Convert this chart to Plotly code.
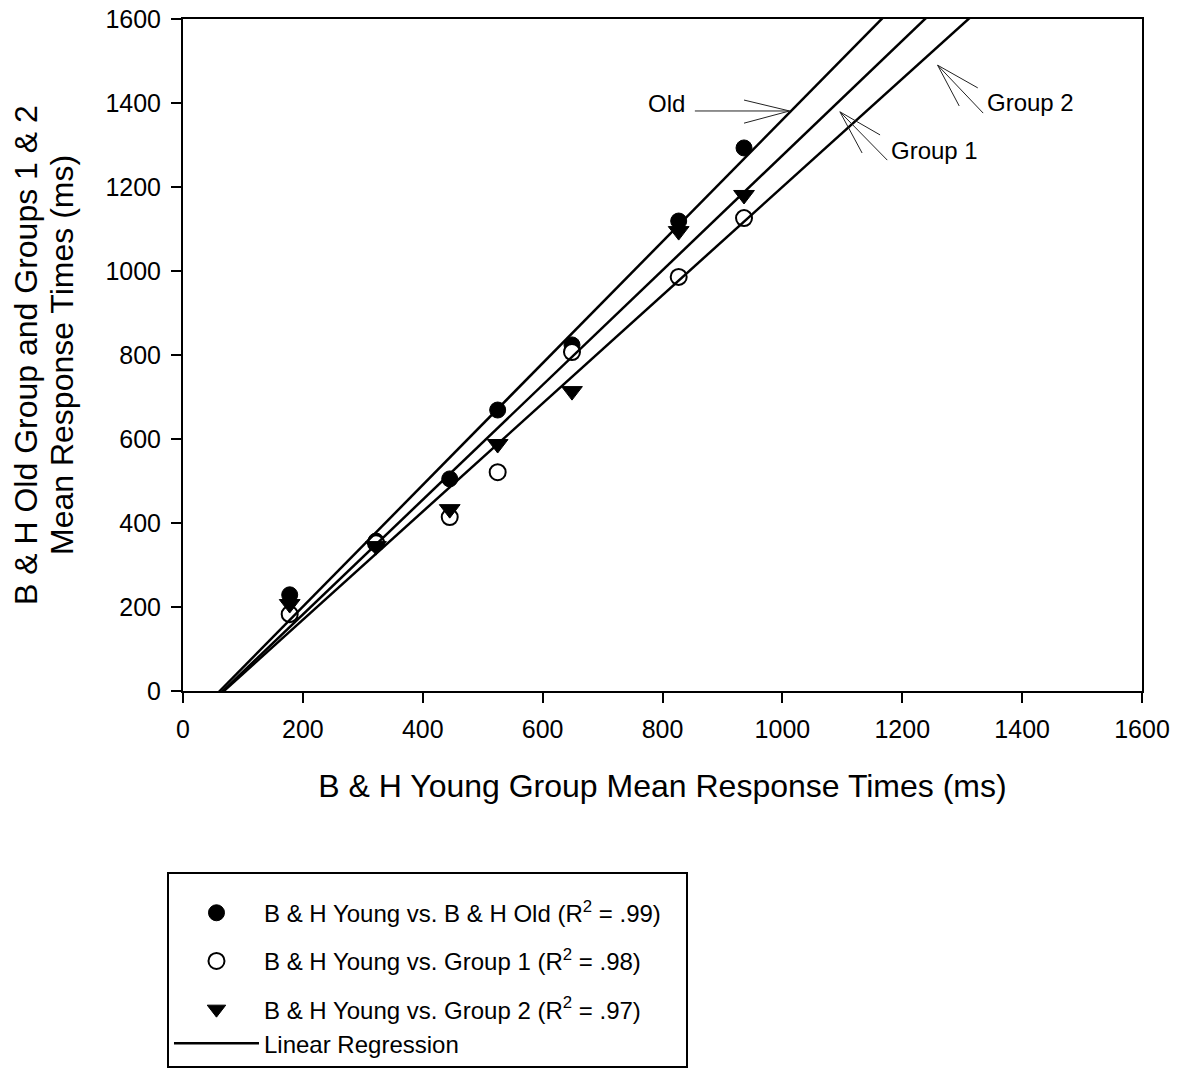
import plotly.graph_objects as go

# ---------------- data ----------------
young_rt = [178, 322, 445, 525, 649, 827, 936]          # B & H Young group mean RT (ms)
old_rt = [229, 357, 505, 669, 824, 1119, 1293]          # B & H Old group
group1_rt = [183, 352, 414, 521, 807, 986, 1126]        # Group 1
group2_rt = [207, 345, 433, 588, 714, 1095, 1181]       # Group 2

# regression lines (intercept, slope) as drawn in the reference
fit_names = ["Old", "Group 1", "Group 2"]
fit_intercepts = [-89.0, -91.0, -88.0]
fit_slopes = [1.449, 1.366, 1.288]

x_ticks = [0, 200, 400, 600, 800, 1000, 1200, 1400, 1600]
y_ticks = [0, 200, 400, 600, 800, 1000, 1200, 1400, 1600]

y_title_lines = ["B & H Old Group and Groups 1 & 2", "Mean Response Times (ms)"]

FONT = "Liberation Sans, Arial, sans-serif"

fig = go.Figure()

fig.add_trace(go.Scatter(
    x=young_rt, y=old_rt, mode="markers",
    name="B & H Young vs. B & H Old (R<sup>2</sup> = .99)\u00a0\u00a0\u00a0",
    marker=dict(symbol="circle", size=16, color="black", line=dict(color="black", width=1)),
    legendgroup="g1", legendrank=1))
fig.add_trace(go.Scatter(
    x=young_rt, y=group1_rt, mode="markers",
    name="B & H Young vs. Group 1 (R<sup>2</sup> = .98)",
    marker=dict(symbol="circle", size=16, color="white", line=dict(color="black", width=2)),
    legendgroup="g2", legendrank=2))
fig.add_trace(go.Scatter(
    x=young_rt, y=group2_rt, mode="markers",
    name="B & H Young vs. Group 2 (R<sup>2</sup> = .97)",
    marker=dict(symbol="triangle-down", size=18, color="black", line=dict(color="black", width=1)),
    legendgroup="g3", legendrank=3))

# regression lines
line_x = [x_ticks[0], x_ticks[-1]]
for i, (b0, b1) in enumerate(zip(fit_intercepts, fit_slopes)):
    fig.add_trace(go.Scatter(
        x=line_x, y=[b0 + b1 * v for v in line_x], mode="lines",
        line=dict(color="black", width=2.5),
        name="Linear Regression", showlegend=(i == 0),
        legendgroup="g3", legendrank=4, hoverinfo="skip"))

# ---------------- callout arrows (open "V" heads, thin lines) ----------------
callouts = [
    ("Old", (807, 1400), [(854, 1381, 1012, 1381), (936, 1407, 1012, 1381), (936, 1352, 1012, 1381)]),
    ("Group 1", (1253, 1288), [(1175, 1264, 1096, 1379), (1163, 1324, 1096, 1379), (1133, 1281, 1096, 1379)]),
    ("Group 2", (1414, 1402), [(1335, 1376, 1259, 1490), (1326, 1436, 1259, 1490), (1295, 1393, 1259, 1490)]),
]
shapes = []
annotations = []
for label, (tx, ty), segs in callouts:
    for (x0, y0, x1, y1) in segs:
        shapes.append(dict(type="line", xref="x", yref="y", x0=x0, y0=y0, x1=x1, y1=y1,
                           line=dict(color="#222222", width=1)))
    annotations.append(dict(x=tx, y=ty, xref="x", yref="y", text=label, showarrow=False,
                            font=dict(family=FONT, size=24, color="black")))

# y-axis title drawn as two rotated lines (tighter line spacing like the reference)
for line_text, shift in zip(y_title_lines, [-157, -121]):
    annotations.append(dict(x=0, y=0.5, xref="paper", yref="paper", text=line_text,
                            showarrow=False, textangle=-90, xanchor="center", yanchor="middle",
                            xshift=shift, font=dict(family=FONT, size=32, color="black")))

axis_common = dict(
    showgrid=False, zeroline=False, showline=True, linecolor="black", linewidth=2,
    mirror=True, ticks="outside", ticklen=10, tickwidth=2, tickcolor="black",
    tickfont=dict(family=FONT, size=25, color="black"), automargin=False,
    ticklabelstandoff=5,
)

fig.update_layout(
    width=1186, height=1075,
    margin=dict(l=183, r=44, t=19, b=384, autoexpand=False),
    plot_bgcolor="white", paper_bgcolor="white",
    font=dict(family=FONT, color="black"),
    xaxis=dict(range=[0, 1600], tickvals=x_ticks, ticktext=[str(v) for v in x_ticks],
               title=dict(text="B & H Young Group Mean Response Times (ms)",
                          font=dict(family=FONT, size=32), standoff=33),
               **axis_common),
    yaxis=dict(range=[0, 1600], tickvals=y_ticks, ticktext=[str(v) for v in y_ticks],
               **axis_common),
    showlegend=True,
    legend=dict(x=-0.0167, y=-0.269, xanchor="left", yanchor="top",
                bordercolor="black", borderwidth=2, bgcolor="white",
                font=dict(family=FONT, size=24, color="black"),
                title=dict(text=" ", font=dict(size=13)),
                itemwidth=85, tracegroupgap=14, traceorder="grouped"),
    shapes=shapes, annotations=annotations,
)

fig.write_html("out.html")
